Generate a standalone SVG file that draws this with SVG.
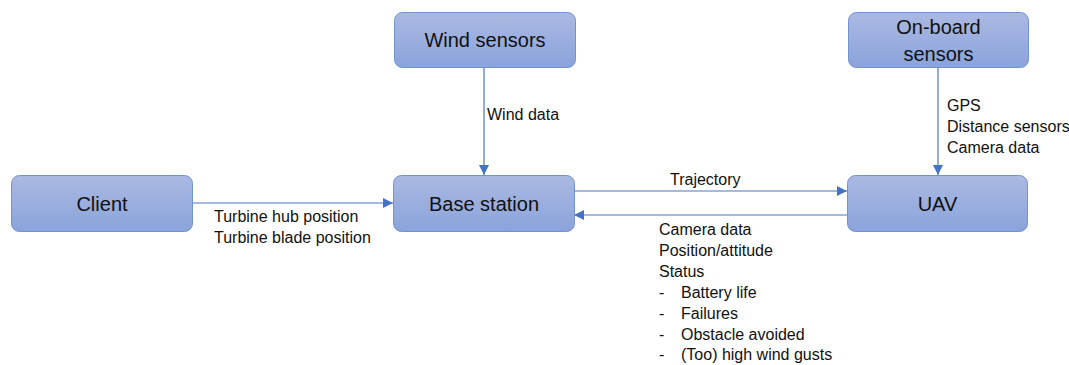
<svg xmlns="http://www.w3.org/2000/svg" width="1069" height="365" viewBox="0 0 1069 365">
<style>
.node rect{fill:url(#g);stroke:#7292d2;stroke-width:1}
.nl{font-family:"Liberation Sans",Arial,sans-serif;font-size:20px;fill:#111;text-anchor:middle}
.lb{font-family:"Liberation Sans",Arial,sans-serif;font-size:16px;fill:#111}
.c line{stroke:#4a76c6;stroke-width:1.2;fill:none}
</style>
<defs>
<linearGradient id="g" x1="0" y1="0" x2="0" y2="1">
<stop offset="0" stop-color="#abb9e2"/>
<stop offset="1" stop-color="#8aa3db"/>
</linearGradient>
<marker id="a" viewBox="0 0 10 10" refX="10" refY="5" markerWidth="10" markerHeight="10" markerUnits="userSpaceOnUse" orient="auto">
<path d="M0,0 L10,5 L0,10 z" fill="#4472c4"/>
</marker>
</defs>
<rect width="1069" height="365" fill="#fff"/>
<g class="c" id="connectors">
<line x1="484" y1="67" x2="484" y2="175" marker-end="url(#a)"/>
<line x1="938" y1="67" x2="938" y2="175" marker-end="url(#a)"/>
<line x1="192" y1="203" x2="393" y2="203" marker-end="url(#a)"/>
<line x1="574" y1="191" x2="847" y2="191" marker-end="url(#a)"/>
<line x1="847" y1="215" x2="574" y2="215" marker-end="url(#a)"/>
</g>
<g id="wind-sensors" class="node"><rect x="394.5" y="12.5" width="181" height="55" rx="8"/><text class="nl" x="485" y="47">Wind sensors</text></g>
<g id="onboard-sensors" class="node"><rect x="848.5" y="12.5" width="180" height="55" rx="8"/><text class="nl" x="938.5" y="34">On-board</text><text class="nl" x="938.5" y="61">sensors</text></g>
<g id="client" class="node"><rect x="11.5" y="175.5" width="181" height="56" rx="8"/><text class="nl" x="102" y="211">Client</text></g>
<g id="base-station" class="node"><rect x="393.5" y="175.5" width="181" height="56" rx="8"/><text class="nl" x="484" y="211">Base station</text></g>
<g id="uav" class="node"><rect x="847.5" y="175.5" width="180" height="56" rx="8"/><text class="nl" x="937.5" y="211">UAV</text></g>
<g id="labels">
<text class="lb" x="487" y="120">Wind data</text>
<text class="lb" x="947" y="111">GPS</text>
<text class="lb" x="947" y="132">Distance sensors</text>
<text class="lb" x="947" y="153">Camera data</text>
<text class="lb" x="670" y="185">Trajectory</text>
<text class="lb" x="214" y="222">Turbine hub position</text>
<text class="lb" x="214" y="243">Turbine blade position</text>
<text class="lb" x="659" y="235">Camera data</text>
<text class="lb" x="659" y="256">Position/attitude</text>
<text class="lb" x="659" y="277">Status</text>
<text class="lb" x="659" y="298">-</text><text class="lb" x="681" y="298">Battery life</text>
<text class="lb" x="659" y="319">-</text><text class="lb" x="681" y="319">Failures</text>
<text class="lb" x="659" y="340">-</text><text class="lb" x="681" y="340">Obstacle avoided</text>
<text class="lb" x="659" y="360">-</text><text class="lb" x="681" y="360">(Too) high wind gusts</text>
</g>
</svg>
